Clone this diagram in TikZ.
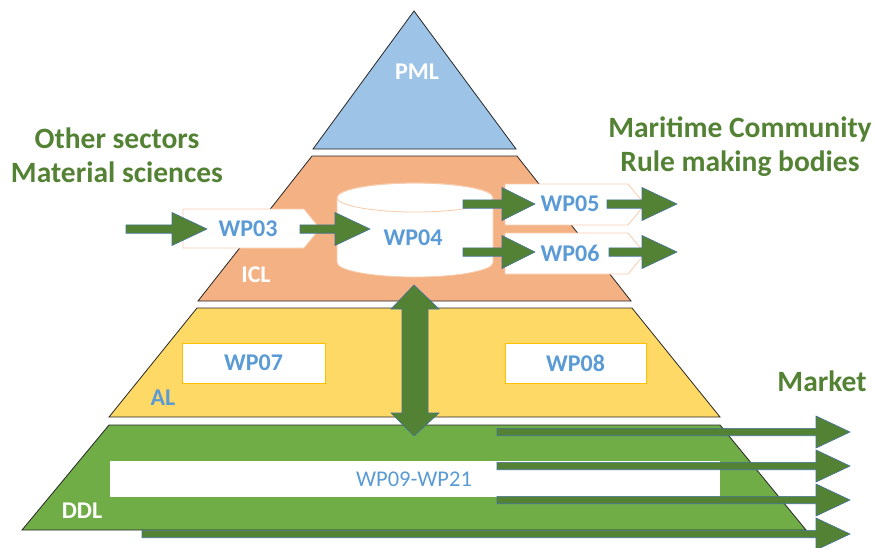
\documentclass[tikz,border=0pt]{standalone}
\usepackage{fontspec}
\setmainfont{Carlito}
\definecolor{pmlblue}{HTML}{9DC3E6}
\definecolor{iclorange}{HTML}{F4B183}
\definecolor{alyellow}{HTML}{FFD966}
\definecolor{ddlgreen}{HTML}{70AD47}
\definecolor{agreen}{HTML}{548235}
\definecolor{aedge}{HTML}{41719C}
\definecolor{wpblue}{HTML}{5B9BD5}
\definecolor{hgreen}{HTML}{548235}
\definecolor{boxorange}{HTML}{F8CBAD}
\definecolor{boxgold}{HTML}{FFC000}
\newcommand{\harrow}[6]{%
  \path[barrow] (#1,#2-#5) -- (#3,#2-#5) -- (#3,#2-#6) -- (#4,#2) -- (#3,#2+#6) -- (#3,#2+#5) -- (#1,#2+#5) -- cycle;}
\tikzset{
  layer/.style={draw=black!85, line width=0.8pt},
  barrow/.style={fill=agreen, draw=aedge, line width=0.6pt},
  wplabel/.style={text=wpblue, font=\bfseries\fontsize{24}{28}\selectfont, inner sep=0pt},
  lyrlabel/.style={text=white, font=\bfseries\fontsize{24}{28}\selectfont, inner sep=0pt},
  heading/.style={text=hgreen, font=\bfseries\fontsize{29.5}{34}\selectfont, inner sep=0pt},
  obox/.style={fill=white, draw=boxorange, line width=0.8pt},
  gbox/.style={fill=white, draw=boxgold, line width=0.8pt},
}
\begin{document}
\begin{tikzpicture}[x=1pt,y=-1pt]
\useasboundingbox (0,0) rectangle (874,547);
% layers
\path[layer, fill=pmlblue] (414,11) -- (516,149) -- (313,149) -- cycle;
\path[layer, fill=iclorange] (312,156) -- (517,156) -- (631,301) -- (198,301) -- cycle;
\path[layer, fill=alyellow] (197,308) -- (632,308) -- (720,417) -- (109,417) -- cycle;
\path[layer, fill=ddlgreen] (109,425) -- (720,425) -- (806,530) -- (22,530) -- cycle;
% WP09-WP21 band
\node[fill=white, inner sep=0pt, minimum width=610pt, minimum height=36pt] (wp0921box) at (415,479) {};
\node[text=wpblue, font=\fontsize{22.5}{26}\selectfont, inner sep=0pt] (wp0921) at (414,479) {WP09-WP21};
% WP07, WP08
\node[gbox, minimum width=143pt, minimum height=40pt, inner sep=0pt] (wp07box) at (253.5,363) {};
\node[wplabel] (wp07) at (253.5,363) {WP07};
\node[gbox, minimum width=141pt, minimum height=40pt, inner sep=0pt] (wp08box) at (575.5,363) {};
\node[wplabel] (wp08) at (575.5,363) {WP08};
% WP03 pentagon
\path[obox] (183,209) -- (304,209) -- (320,228.5) -- (304,248) -- (183,248) -- cycle;
\node[wplabel] (wp03) at (248,229) {WP03};
% WP04 cylinder
\path[fill=white, draw=boxorange, line width=0.8pt] (337,197.5) -- (337,262.5)
  arc[start angle=180, end angle=360, x radius=78pt, y radius=14.5pt] -- (493,197.5)
  arc[start angle=0, end angle=180, x radius=78pt, y radius=14.5pt] -- cycle;
\draw[boxorange, line width=0.8pt] (415,197.5) ellipse[x radius=78pt, y radius=14.5pt];
\node[wplabel] (wp04) at (413,238) {WP04};
% WP05, WP06
\path[obox] (505,184) -- (628,184) -- (645,204.5) -- (628,225) -- (505,225) -- cycle;
\node[wplabel] (wp05) at (570,204) {WP05};
\path[obox] (505,233) -- (628,233) -- (645,253.5) -- (628,274) -- (505,274) -- cycle;
\node[wplabel] (wp06) at (570,253) {WP06};
% layer labels
\node[lyrlabel] (pml) at (417,72) {PML};
\node[lyrlabel] (icl) at (256,275) {ICL};
\node[wplabel] (al) at (163,398) {AL};
\node[lyrlabel] (ddl) at (82,511) {DDL};
% headings
\node[heading, align=center] (other) at (117,155) {Other sectors\\Material sciences};
\node[heading, align=center] (maritime) at (740,146.5) {Maritime Community\\Rule making bodies};
\node[heading] (market) at (822,381) {Market};
% block arrows
\harrow{126}{229}{172}{207}{4.2}{16.5}
\harrow{300}{229}{335}{370}{4.2}{16.5}
\harrow{463}{204}{502}{535}{4.2}{16.5}
\harrow{463}{252}{502}{535}{4.2}{16.5}
\harrow{607}{204}{642}{677}{4.2}{16.5}
\harrow{609}{252}{642}{677}{4.2}{16.5}
\harrow{497}{432}{816}{850}{3.7}{16}
\harrow{497}{466}{816}{850}{3.7}{16}
\harrow{497}{500}{816}{850}{3.7}{16}
\harrow{142}{534}{816}{850}{3.7}{16}
% vertical double arrow
\path[barrow] (414,285) -- (439,309) -- (428,309) -- (428,413) -- (439,413) -- (414,436)
  -- (391,413) -- (402,413) -- (402,309) -- (391,309) -- cycle;
\end{tikzpicture}
\end{document}
